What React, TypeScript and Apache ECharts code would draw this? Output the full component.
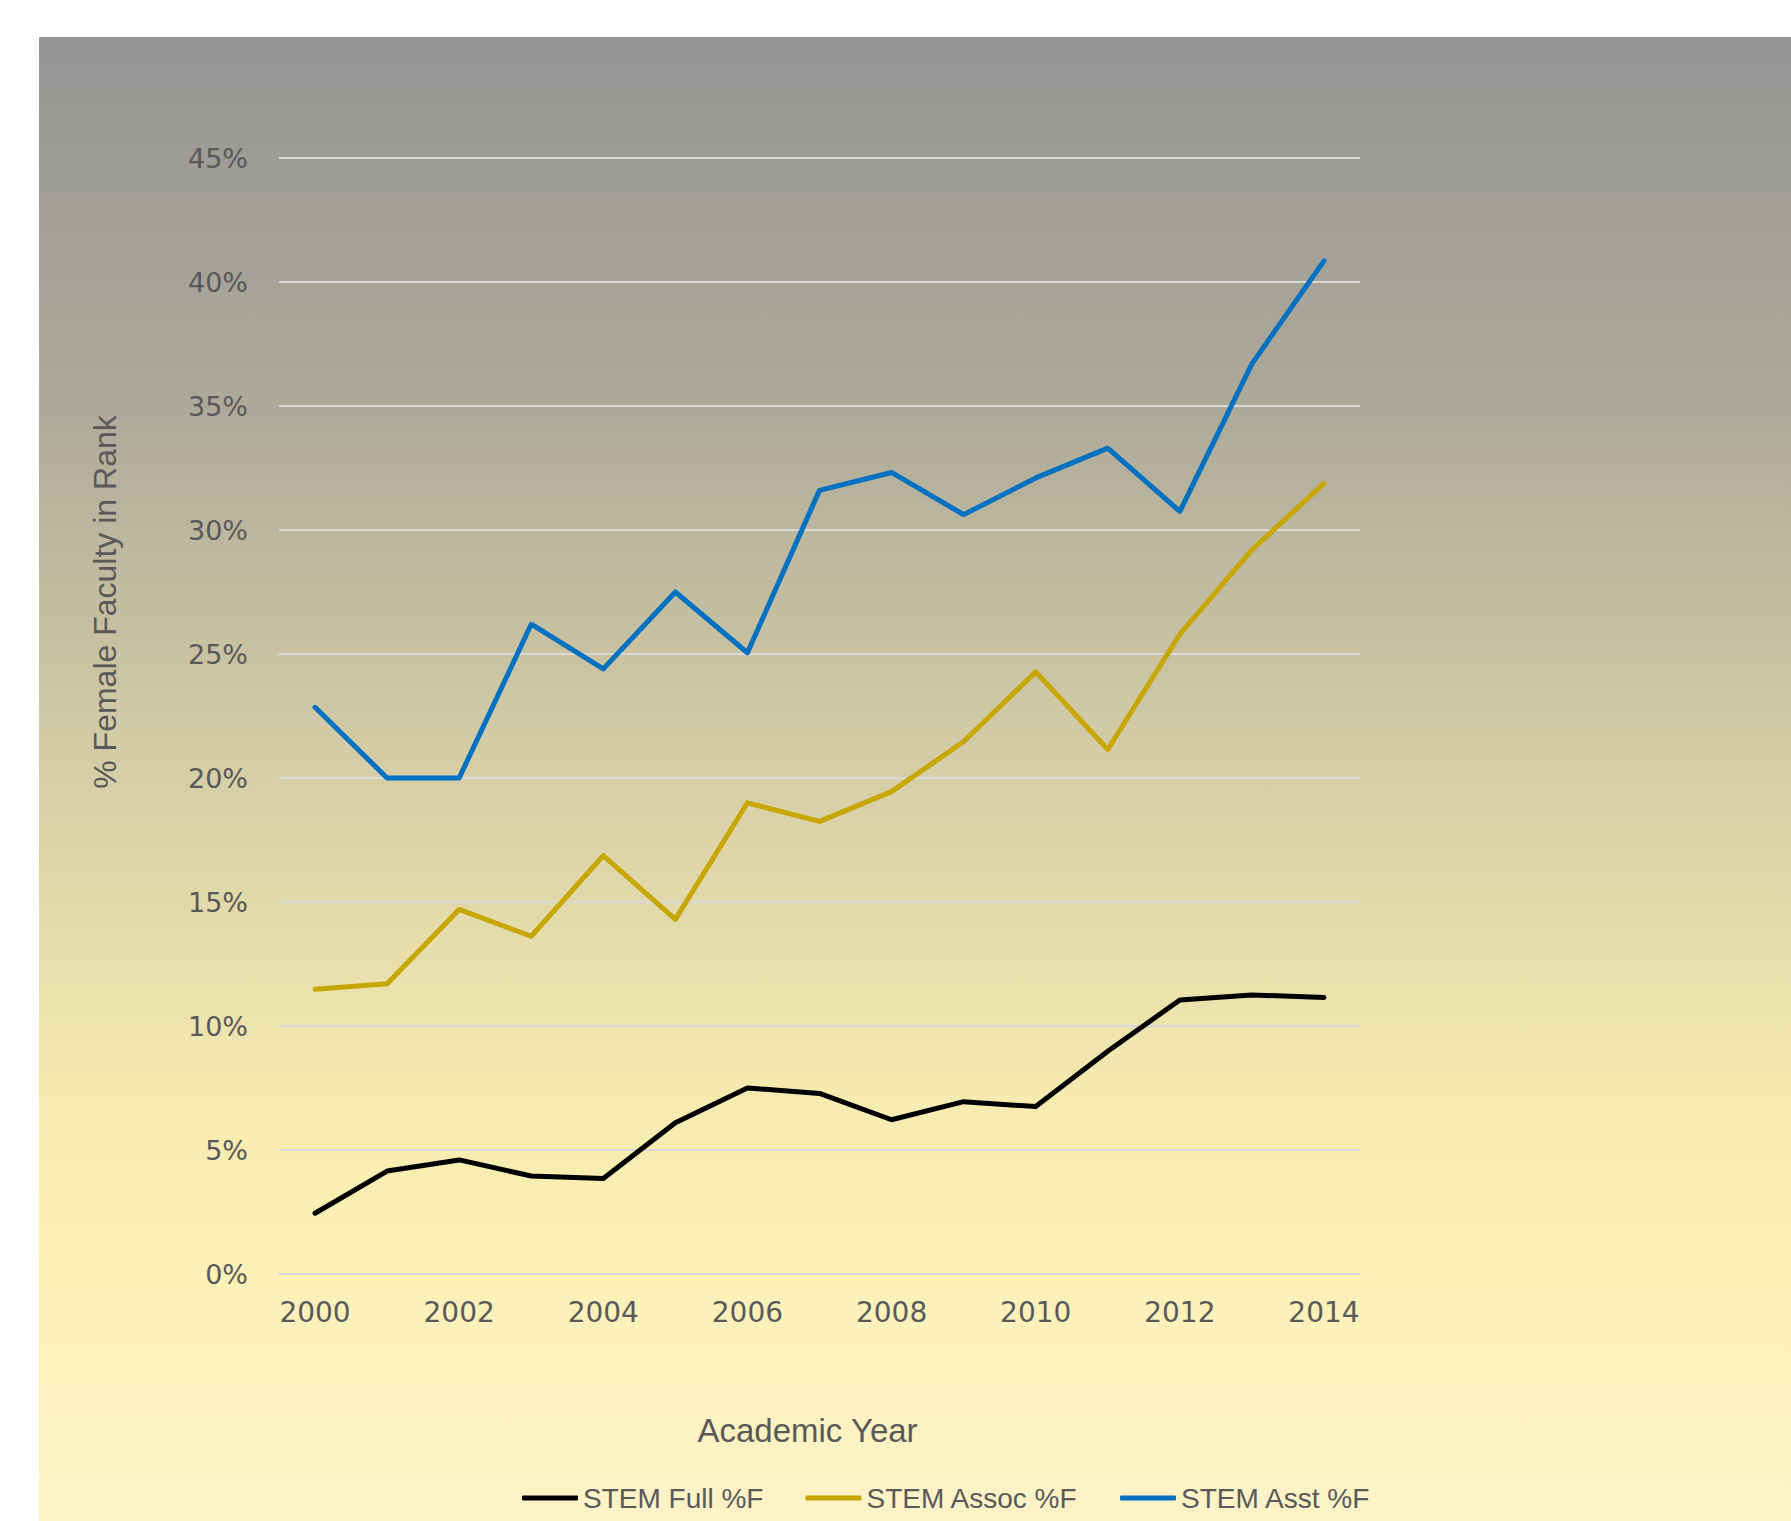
import React, { useEffect, useRef } from "react";
import * as echarts from "echarts";

const years = ["2000","2001","2002","2003","2004","2005","2006","2007","2008","2009","2010","2011","2012","2013","2014"];
const stemFull = [2.45, 4.15, 4.6, 3.95, 3.85, 6.1, 7.5, 7.28, 6.22, 6.95, 6.75, 8.98, 11.05, 11.25, 11.15];
const stemAssoc = [11.48, 11.7, 14.7, 13.62, 16.87, 14.3, 19.0, 18.25, 19.45, 21.47, 24.28, 21.15, 25.8, 29.2, 31.88];
const stemAsst = [22.85, 20.0, 20.0, 26.2, 24.4, 27.5, 25.05, 31.6, 32.32, 30.62, 32.1, 33.3, 30.75, 36.7, 40.85];
const seriesNames = ["STEM Full %F", "STEM Assoc %F", "STEM Asst %F"];
const seriesColors = ["#000000", "#C8A600", "#0070C0"];
const yTicks = { min: 0, max: 45, interval: 5 };

export default function App() {
  const ref = useRef<HTMLDivElement>(null);
  useEffect(() => {
    if (!ref.current) return;
    const chart = echarts.init(ref.current, null, { renderer: "svg" });
    const dataSets = [stemFull, stemAssoc, stemAsst];
    chart.setOption({
      animation: false,
      backgroundColor: "#FFFFFF",
      graphic: [
        {
          type: "rect",
          z: -100,
          silent: true,
          shape: { x: 39, y: 37, width: 1752, height: 1484 },
          style: {
            fill: new echarts.graphic.LinearGradient(0, 0, 0, 1, [
              { offset: 0, color: "#959595" },
              { offset: 0.25, color: "#AEAA9A" },
              { offset: 0.48, color: "#D3CCA6" },
              { offset: 0.72, color: "#F6EBB0" },
              { offset: 0.8, color: "#FBF0B3" },
              { offset: 1, color: "#FEF3C8" },
            ]),
          },
        },
      ],
      grid: { left: 279, right: 431, top: 158, bottom: 247, containLabel: false },
      legend: {
        data: seriesNames,
        left: 517,
        top: 1479,
        itemWidth: 56,
        itemHeight: 5,
        itemGap: 42,
        icon: "roundRect",
        textStyle: { color: "#595959", fontFamily: "Liberation Sans", fontSize: 28 },
      },
      xAxis: {
        type: "category",
        data: years,
        boundaryGap: true,
        name: "Academic Year",
        nameLocation: "middle",
        nameGap: 140,
        nameTextStyle: { color: "#595959", fontFamily: "Liberation Sans", fontSize: 33, padding: [0, 24, 0, 0] },
        axisLine: { show: true, lineStyle: { color: "#D9D9D9", width: 2 } },
        axisTick: { show: false },
        axisLabel: { interval: 1, color: "#595959", fontFamily: "DejaVu Sans", fontSize: 28, margin: 24 },
        splitLine: { show: false },
      },
      yAxis: {
        type: "value",
        min: yTicks.min,
        max: yTicks.max,
        interval: yTicks.interval,
        name: "% Female Faculty in Rank",
        nameLocation: "middle",
        nameRotate: 90,
        nameGap: 158,
        nameTextStyle: { color: "#595959", fontFamily: "Liberation Sans", fontSize: 32, padding: [0, 0, 0, 228] },
        axisLine: { show: false },
        axisTick: { show: false },
        axisLabel: { color: "#595959", fontFamily: "DejaVu Sans", fontSize: 27, margin: 31, formatter: (v: number) => `${v}%` },
        splitLine: { show: true, lineStyle: { color: "#D9D9D9", width: 2 } },
      },
      series: dataSets.map((d, i) => ({
        name: seriesNames[i],
        type: "line",
        data: d,
        symbol: "none",
        lineStyle: { color: seriesColors[i], width: 5, cap: "round", join: "round" },
        itemStyle: { color: seriesColors[i] },
      })),
    });
    return () => chart.dispose();
  }, []);
  return (
    <div
      ref={ref}
      style={{ position: "fixed", left: 0, top: 0, width: 1791, height: 1521 }}
    />
  );
}
